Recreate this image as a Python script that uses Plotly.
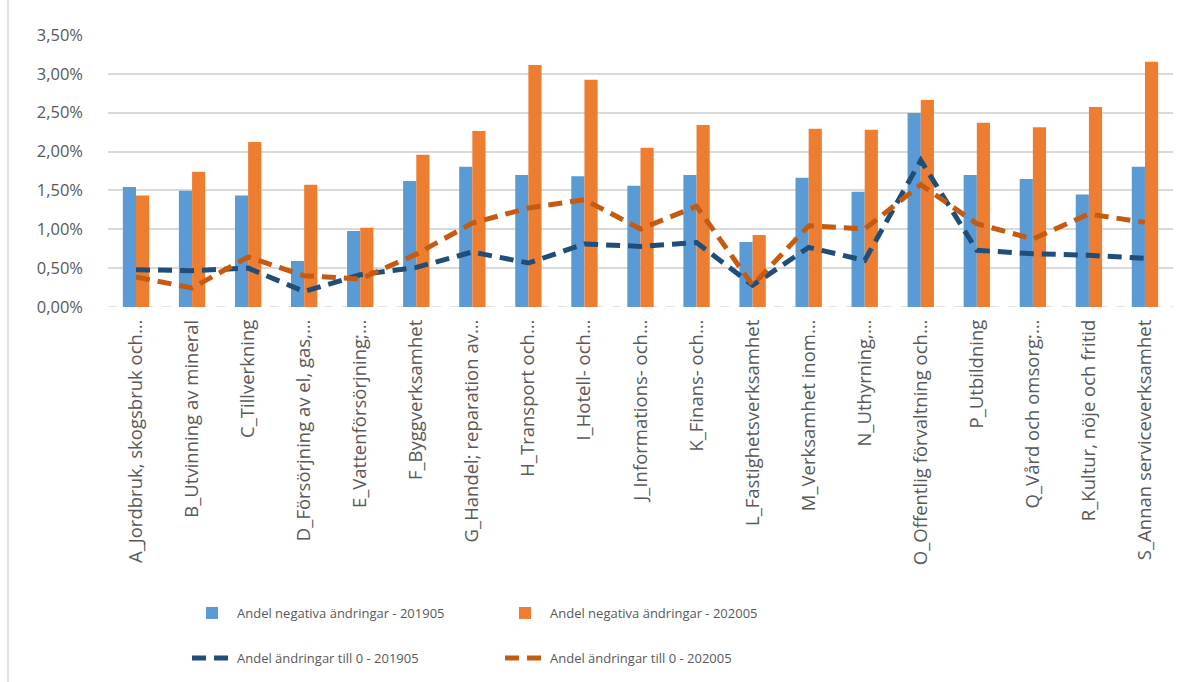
import plotly.graph_objects as go

categories = [
    "A_Jordbruk, skogsbruk och…", "B_Utvinning av mineral", "C_Tillverkning",
    "D_Försörjning av el, gas,…", "E_Vattenförsörjning;…", "F_Byggverksamhet",
    "G_Handel; reparation av…", "H_Transport och…", "I_Hotell- och…",
    "J_Informations- och…", "K_Finans- och…", "L_Fastighetsverksamhet",
    "M_Verksamhet inom…", "N_Uthyrning,…", "O_Offentlig förvaltning och…",
    "P_Utbildning", "Q_Vård och omsorg;…", "R_Kultur, nöje och fritid",
    "S_Annan serviceverksamhet",
]

neg_201905 = [1.545, 1.497, 1.436, 0.592, 0.978, 1.62, 1.805, 1.70, 1.681, 1.561,
              1.70, 0.837, 1.664, 1.484, 2.497, 1.70, 1.647, 1.449, 1.805]
neg_202005 = [1.436, 1.741, 2.123, 1.574, 1.02, 1.96, 2.265, 3.114, 2.925, 2.05,
              2.342, 0.927, 2.295, 2.282, 2.664, 2.372, 2.312, 2.574, 3.157]
zero_201905 = [0.48, 0.467, 0.50, 0.20, 0.415, 0.51, 0.708, 0.566, 0.81, 0.78,
               0.83, 0.28, 0.767, 0.60, 1.887, 0.729, 0.686, 0.665, 0.626]
zero_202005 = [0.386, 0.245, 0.644, 0.403, 0.36, 0.68, 1.08, 1.274, 1.381, 1.004,
               1.295, 0.28, 1.046, 1.004, 1.574, 1.072, 0.875, 1.197, 1.089]

y_ticks = [0, 0.5, 1.0, 1.5, 2.0, 2.5, 3.0, 3.5]
y_ticktext = ["0,00%", "0,50%", "1,00%", "1,50%", "2,00%", "2,50%", "3,00%", "3,50%"]

FONT = "Open Sans, sans-serif"
GRAY = "#595959"

fig = go.Figure()
fig.add_trace(go.Bar(x=categories, y=neg_201905, name="Andel negativa ändringar - 201905",
                     marker=dict(color="#5B9BD5", line=dict(width=0)), legend="legend"))
fig.add_trace(go.Bar(x=categories, y=neg_202005, name="Andel negativa ändringar - 202005",
                     marker=dict(color="#ED7D31", line=dict(width=0)), legend="legend"))
fig.add_trace(go.Scatter(x=categories, y=zero_201905, name="Andel ändringar till 0 - 201905",
                         mode="lines", line=dict(color="#1F4E79", width=5, dash="14px,8px"),
                         legend="legend2"))
fig.add_trace(go.Scatter(x=categories, y=zero_202005, name="Andel ändringar till 0 - 202005",
                         mode="lines", line=dict(color="#C55A11", width=5, dash="14px,8px"),
                         legend="legend2"))

W, H = 1192, 682
L, R, T, B = 108, 19, 35, 375
ph = H - T - B
pw = W - L - R

def py(pix):
    return (H - B - pix) / ph

def px(pix):
    return (pix - L) / pw

legend_common = dict(orientation="h", xanchor="left", yanchor="middle", entrywidth=258,
                     entrywidthmode="pixels", font=dict(family=FONT, size=13, color=GRAY),
                     bgcolor="rgba(0,0,0,0)", itemwidth=40, tracegroupgap=0)

fig.update_layout(
    width=W, height=H,
    margin=dict(l=L, r=R, t=T, b=B, autoexpand=False),
    paper_bgcolor="white", plot_bgcolor="white",
    barmode="group", bargap=0.53, bargroupgap=0,
    font=dict(family=FONT, color=GRAY, size=15),
    legend=dict(x=px(187), y=py(613), **legend_common),
    legend2=dict(x=px(187), y=py(658), **legend_common),
    xaxis=dict(tickangle=-90, tickfont=dict(family=FONT, size=18.5, color=GRAY),
               showgrid=False, showline=False, ticks="", ticklabelstandoff=8,
               automargin=False, range=[-0.5, len(categories) - 0.5]),
    yaxis=dict(range=[0, 3.5], tickvals=y_ticks, ticktext=y_ticktext,
               tickfont=dict(family=FONT, size=16.5, color=GRAY), automargin=False,
               showgrid=True, gridcolor="#D9D9D9", gridwidth=1.5,
               zeroline=False, showline=False, ticks="", ticklabelstandoff=24),
    shapes=[
        dict(type="line", xref="paper", yref="y", x0=0, x1=1, y0=0, y1=0,
             line=dict(color="#D9D9D9", width=1.5, dash="dash"), layer="below"),
        dict(type="line", xref="paper", yref="paper", x0=px(8), x1=px(8),
             y0=py(0), y1=py(682), line=dict(color="#D9D9D9", width=1.5)),
    ],
)

fig.write_html("out.html", config={"displayModeBar": False},
               post_script="document.body.style.margin='0px';document.body.style.overflow='hidden';")
